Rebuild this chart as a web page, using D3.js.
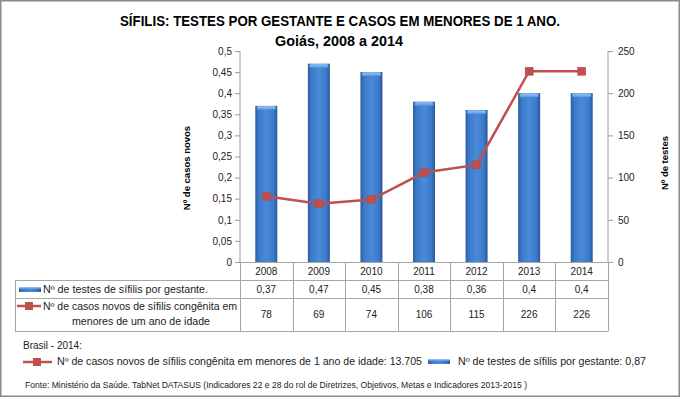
<!DOCTYPE html>
<html>
<head>
<meta charset="utf-8">
<script src="https://cdn.jsdelivr.net/npm/d3@7"></script>
<style>
  body { margin: 0; background: #fff; }
  svg { display: block; font-family: "Liberation Sans", Arial, sans-serif; }
</style>
</head>
<body>
<div id="chart"></div>
<script>
// data
const years = ["2008", "2009", "2010", "2011", "2012", "2013", "2014"];
const testesPorGestante = [0.37, 0.47, 0.45, 0.38, 0.36, 0.4, 0.4];
const casosNovos = [78, 69, 74, 106, 115, 226, 226];
const leftTicks = [0, 0.05, 0.1, 0.15, 0.2, 0.25, 0.3, 0.35, 0.4, 0.45, 0.5];
const rightTicks = [0, 50, 100, 150, 200, 250];
const brasilCasos = "13.705";
const brasilTestes = "0,87";

const W = 680, H = 397;
const plot = { left: 240, right: 608, top: 51, bottom: 262 };
const fmt = v => String(v).replace(".", ",");

const svg = d3.select("#chart").append("svg")
    .attr("width", W).attr("height", H);

// outer frame
svg.append("rect")
    .attr("x", 0.75).attr("y", 0.75)
    .attr("width", W - 1.5).attr("height", H - 1.5)
    .attr("fill", "#fff").attr("stroke", "#8a8a8a").attr("stroke-width", 1.5);

// gradients for the bars
const defs = svg.append("defs");
const grad = defs.append("linearGradient").attr("id", "barGrad")
    .attr("x1", "0").attr("x2", "1").attr("y1", "0").attr("y2", "0");
grad.append("stop").attr("offset", "0%").attr("stop-color", "#2c5e9f");
grad.append("stop").attr("offset", "18%").attr("stop-color", "#3c7bcc");
grad.append("stop").attr("offset", "50%").attr("stop-color", "#4a8ad9");
grad.append("stop").attr("offset", "82%").attr("stop-color", "#3c7bcc");
grad.append("stop").attr("offset", "100%").attr("stop-color", "#285895");
const capGrad = defs.append("linearGradient").attr("id", "capGrad")
    .attr("x1", "0").attr("x2", "0").attr("y1", "0").attr("y2", "1");
capGrad.append("stop").attr("offset", "0%").attr("stop-color", "#9cc5f3");
capGrad.append("stop").attr("offset", "100%").attr("stop-color", "#5592dc");

// title
svg.append("text").attr("x", 340).attr("y", 26)
    .attr("text-anchor", "middle").attr("font-weight", "bold").attr("font-size", 14)
    .attr("textLength", 440).attr("lengthAdjust", "spacingAndGlyphs")
    .text("SÍFILIS: TESTES POR GESTANTE E CASOS EM MENORES DE 1 ANO.");
svg.append("text").attr("x", 339).attr("y", 46)
    .attr("text-anchor", "middle").attr("font-weight", "bold").attr("font-size", 14)
    .attr("textLength", 128).attr("lengthAdjust", "spacingAndGlyphs")
    .text("Goiás, 2008 a 2014");

// scales
const x = d3.scaleBand().domain(years).range([plot.left, plot.right]);
const yL = d3.scaleLinear().domain([0, 0.5]).range([plot.bottom, plot.top]);
const yR = d3.scaleLinear().domain([0, 250]).range([plot.bottom, plot.top]);

// axes
const axisL = svg.append("g").attr("transform", `translate(${plot.left},0)`)
    .call(d3.axisLeft(yL).tickValues(leftTicks).tickSize(5).tickPadding(3).tickFormat(fmt));
const axisR = svg.append("g").attr("transform", `translate(${plot.right},0)`)
    .call(d3.axisRight(yR).tickValues(rightTicks).tickSize(5).tickPadding(5));
[axisL, axisR].forEach(a => {
    a.select(".domain").attr("stroke", "#9a9a9a");
    a.selectAll(".tick line").attr("stroke", "#9a9a9a");
    a.selectAll(".tick text").attr("font-size", 10).attr("fill", "#222")
        .attr("font-family", "Liberation Sans, Arial, sans-serif");
});
axisL.select(".domain").attr("d", `M0,${plot.top}V${plot.bottom}`);
axisR.select(".domain").attr("d", `M0,${plot.top}V${plot.bottom}`);

// axis titles
svg.append("text")
    .attr("transform", "translate(190,168) rotate(-90)")
    .attr("text-anchor", "middle").attr("font-weight", "bold").attr("font-size", 9.5)
    .text("Nº de casos  novos");
svg.append("text")
    .attr("transform", "translate(668,163) rotate(-90)")
    .attr("text-anchor", "middle").attr("font-weight", "bold").attr("font-size", 9.5)
    .text("Nº de testes");

// bars
const barW = 22;
const bars = svg.append("g").selectAll("g").data(years).join("g");
bars.append("rect")
    .attr("x", d => x(d) + x.bandwidth() / 2 - barW / 2)
    .attr("y", (d, i) => yL(testesPorGestante[i]))
    .attr("width", barW)
    .attr("height", (d, i) => plot.bottom - yL(testesPorGestante[i]))
    .attr("fill", "url(#barGrad)");
bars.append("rect")
    .attr("x", d => x(d) + x.bandwidth() / 2 - barW / 2 + 1.5)
    .attr("y", (d, i) => yL(testesPorGestante[i]) + 0.5)
    .attr("width", barW - 3)
    .attr("height", 3.5)
    .attr("rx", 1.5)
    .attr("fill", "url(#capGrad)");

// line
const lineColor = "#c0504d";
const line = d3.line()
    .x((d, i) => x(years[i]) + x.bandwidth() / 2)
    .y(d => yR(d));
svg.append("path").datum(casosNovos)
    .attr("d", line)
    .attr("fill", "none").attr("stroke", lineColor).attr("stroke-width", 2.5);
svg.append("g").selectAll("rect").data(casosNovos).join("rect")
    .attr("x", (d, i) => x(years[i]) + x.bandwidth() / 2 - 4)
    .attr("y", d => yR(d) - 4)
    .attr("width", 8).attr("height", 8)
    .attr("fill", lineColor).attr("stroke", "#b54643").attr("stroke-width", 0.5);

// data table
const gridColor = "#a6a6a6";
const rowY = [262, 280, 298, 331];
const tableLeft = 15;
const tbl = svg.append("g").attr("stroke", gridColor).attr("stroke-width", 1).attr("fill", "none");
// horizontal lines
tbl.append("line").attr("x1", plot.left).attr("x2", plot.right).attr("y1", rowY[0] + 0.5).attr("y2", rowY[0] + 0.5);
[1, 2, 3].forEach(r => tbl.append("line")
    .attr("x1", tableLeft).attr("x2", plot.right)
    .attr("y1", rowY[r] + 0.5).attr("y2", rowY[r] + 0.5));
// vertical lines
tbl.append("line").attr("x1", tableLeft + 0.5).attr("x2", tableLeft + 0.5).attr("y1", rowY[1]).attr("y2", rowY[3] + 0.5);
years.concat(["end"]).forEach((d, i) => {
    const xx = Math.round(plot.left + i * x.bandwidth()) + 0.5;
    tbl.append("line").attr("x1", xx).attr("x2", xx).attr("y1", rowY[0]).attr("y2", rowY[3] + 0.5);
});

const cell = svg.append("g").attr("font-size", 10).attr("fill", "#222").attr("text-anchor", "middle");
cell.selectAll(".yr").data(years).join("text")
    .attr("x", d => x(d) + x.bandwidth() / 2).attr("y", 275).text(d => d);
cell.selectAll(".v1").data(testesPorGestante).join("text")
    .attr("x", (d, i) => x(years[i]) + x.bandwidth() / 2).attr("y", 293).text(fmt);
cell.selectAll(".v2").data(casosNovos).join("text")
    .attr("x", (d, i) => x(years[i]) + x.bandwidth() / 2).attr("y", 318).text(d => d);

// row headers with legend keys
svg.append("rect").attr("x", 19).attr("y", 287).attr("width", 22).attr("height", 5)
    .attr("fill", "url(#barGrad)");
svg.append("rect").attr("x", 19).attr("y", 287).attr("width", 22).attr("height", 1.5)
    .attr("fill", "#8fbcf0");
svg.append("text").attr("x", 43).attr("y", 293).attr("font-size", 10).attr("fill", "#222")
    .attr("textLength", 165).attr("lengthAdjust", "spacingAndGlyphs")
    .text("Nº de testes de sífilis por gestante.");
svg.append("line").attr("x1", 17).attr("x2", 41).attr("y1", 306).attr("y2", 306)
    .attr("stroke", lineColor).attr("stroke-width", 2.5);
svg.append("rect").attr("x", 25).attr("y", 302).attr("width", 8).attr("height", 8).attr("fill", lineColor);
svg.append("text").attr("x", 43).attr("y", 310).attr("font-size", 10).attr("fill", "#222")
    .attr("textLength", 194).attr("lengthAdjust", "spacingAndGlyphs")
    .text("Nº de casos novos de sífilis congênita em");
svg.append("text").attr("x", 141).attr("y", 325).attr("font-size", 10).attr("fill", "#222")
    .attr("text-anchor", "middle")
    .attr("textLength", 138).attr("lengthAdjust", "spacingAndGlyphs")
    .text("menores de um ano de idade");

// Brasil 2014 notes
svg.append("text").attr("x", 23).attr("y", 349).attr("font-size", 10).attr("fill", "#222")
    .text("Brasil - 2014:");
svg.append("line").attr("x1", 23).attr("x2", 52).attr("y1", 362).attr("y2", 362)
    .attr("stroke", lineColor).attr("stroke-width", 2.5);
svg.append("rect").attr("x", 33).attr("y", 358).attr("width", 8).attr("height", 8).attr("fill", lineColor);
svg.append("text").attr("x", 57).attr("y", 365).attr("font-size", 10).attr("fill", "#222")
    .attr("textLength", 365).attr("lengthAdjust", "spacingAndGlyphs")
    .text(`Nº de casos novos de sífilis congênita em menores de 1 ano de idade: ${brasilCasos}`);
svg.append("rect").attr("x", 428).attr("y", 359).attr("width", 22).attr("height", 5)
    .attr("fill", "url(#barGrad)");
svg.append("rect").attr("x", 428).attr("y", 359).attr("width", 22).attr("height", 1.5)
    .attr("fill", "#8fbcf0");
svg.append("text").attr("x", 458).attr("y", 365).attr("font-size", 10).attr("fill", "#222")
    .attr("textLength", 188).attr("lengthAdjust", "spacingAndGlyphs")
    .text(`Nº de testes de sífilis por gestante: ${brasilTestes}`);

// source
svg.append("text").attr("x", 25).attr("y", 388).attr("font-size", 8.5).attr("fill", "#222")
    .attr("textLength", 502).attr("lengthAdjust", "spacingAndGlyphs")
    .text("Fonte: Ministério da Saúde. TabNet DATASUS (Indicadores 22 e 28 do rol de Diretrizes, Objetivos, Metas e Indicadores 2013-2015 )");
</script>
</body>
</html>
